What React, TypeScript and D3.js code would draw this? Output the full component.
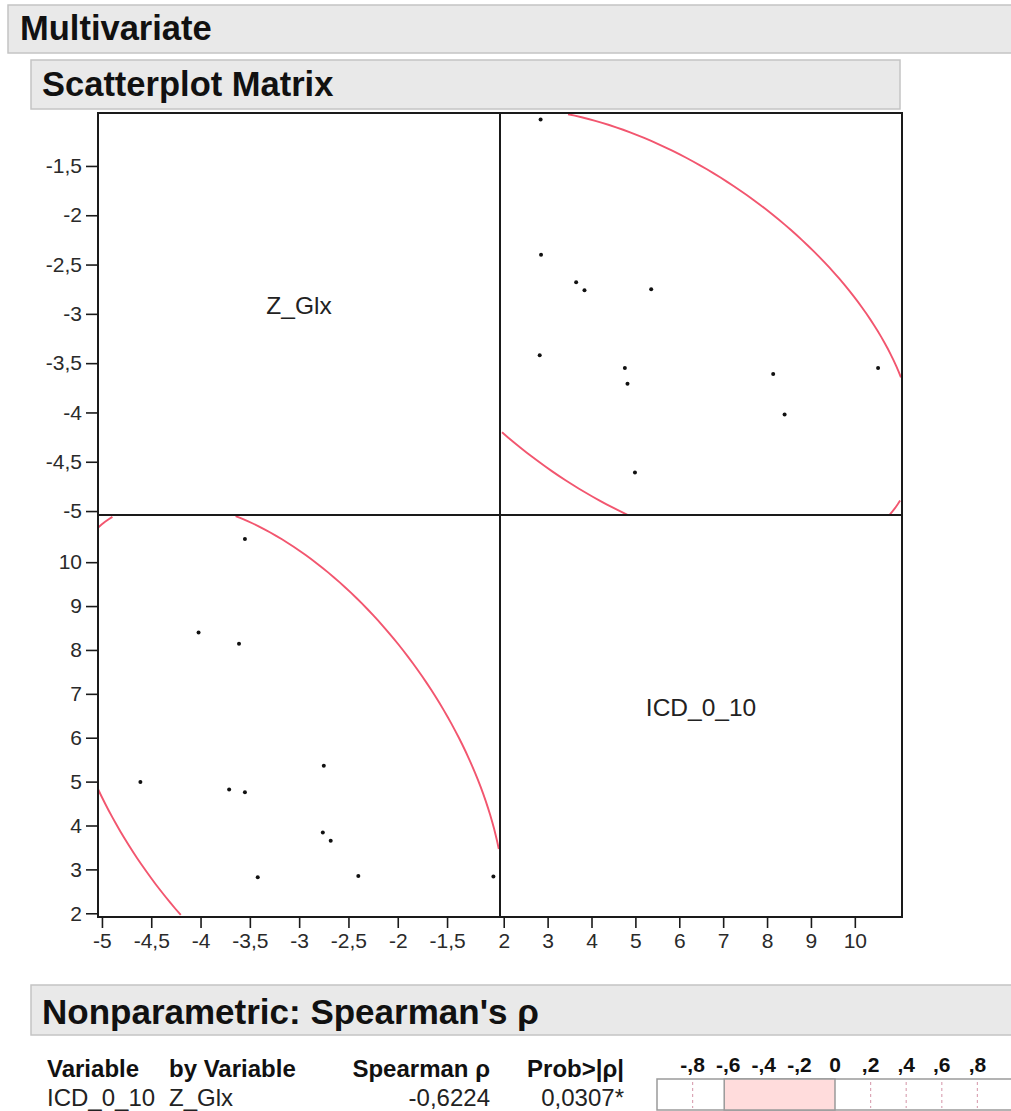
import * as d3 from 'd3';
import { useEffect, useRef } from 'react';

// values
const zGlx = [-3.55, -4.02, -3.61, -4.61, -3.71, -3.55, -2.75, -2.76, -2.68, -3.42, -2.4, -1.03];
const icd010 = [10.53, 8.4, 8.14, 4.99, 4.82, 4.76, 5.36, 3.84, 3.65, 2.82, 2.85, 2.84];
const varNames = ['Z_Glx', 'ICD_0_10'];
const zTicks = [-5, -4.5, -4, -3.5, -3, -2.5, -2, -1.5];
const icdTicks = [2, 3, 4, 5, 6, 7, 8, 9, 10];
const rhoTicks = [-0.8, -0.6, -0.4, -0.2, 0, 0.2, 0.4, 0.6, 0.8];
const sectionTitles = ['Multivariate', 'Scatterplot Matrix', "Nonparametric: Spearman's ρ"];
const tableHeader = ['Variable', 'by Variable', 'Spearman ρ', 'Prob>|ρ|'];
const tableRow = ['ICD_0_10', 'Z_Glx', '-0,6224', '0,0307*'];
const spearmanRho = -0.6224;

const FONT = '"Liberation Sans", Arial, Helvetica, sans-serif';
const comma = (d: number) => String(d).replace('.', ',');
const rhoFmt = (d: number) => (d === 0 ? '0' : String(d).replace('0.', ','));

const App = () => {
  const svgRef = useRef<SVGSVGElement | null>(null);

  useEffect(() => {
    if (!svgRef.current) return;
    const svg = d3.select(svgRef.current).html('');

    // section header bars
    const bars = [
      { x: 8, y: 5, w: 1030, h: 48, tx: 20, ty: 40 },
      { x: 31, y: 60, w: 869, h: 49, tx: 42, ty: 96 },
      { x: 31, y: 985, w: 1000, h: 50, tx: 42, ty: 1024 },
    ];
    bars.forEach((b, i) => {
      svg.append('rect')
        .attr('x', b.x).attr('y', b.y)
        .attr('width', b.w).attr('height', b.h)
        .attr('fill', '#e9e9e9')
        .attr('stroke', '#c4c4c4')
        .attr('stroke-width', 1.5);
      svg.append('text')
        .attr('x', b.tx).attr('y', b.ty)
        .attr('font-family', FONT)
        .attr('font-weight', 'bold')
        .attr('font-size', i === 2 ? 35 : 34.5)
        .attr('fill', '#111')
        .text(sectionTitles[i]);
    });

    // scatterplot matrix
    const x0 = 98, y0 = 113, cell = 402;
    const zDomain: [number, number] = [-5.04, -0.963];
    const iDomain: [number, number] = [1.915, 11.075];
    const zX = d3.scaleLinear().domain(zDomain).range([x0, x0 + cell]);
    const iX = d3.scaleLinear().domain(iDomain).range([x0 + cell, x0 + 2 * cell]);
    const zY = d3.scaleLinear().domain(zDomain).range([y0 + cell, y0]);
    const iY = d3.scaleLinear().domain(iDomain).range([y0 + 2 * cell, y0 + cell]);

    const points = zGlx.map((z, i) => ({ z, c: icd010[i] }));

    // 95% density ellipse from mean and covariance
    const n = points.length;
    const mz = d3.mean(zGlx)!;
    const mc = d3.mean(icd010)!;
    const szz = d3.sum(zGlx, z => (z - mz) ** 2) / (n - 1);
    const scc = d3.sum(icd010, c => (c - mc) ** 2) / (n - 1);
    const szc = d3.sum(points, p => (p.z - mz) * (p.c - mc)) / (n - 1);
    const l11 = Math.sqrt(szz);
    const l21 = szc / l11;
    const l22 = Math.sqrt(scc - l21 * l21);
    const k = Math.sqrt(5.991);
    const ellipse = d3.range(0, 361, 1.5).map(a => {
      const t = (a * Math.PI) / 180;
      const u = Math.cos(t), v = Math.sin(t);
      return { z: mz + k * l11 * u, c: mc + k * (l21 * u + l22 * v) };
    });
    // drop the parts that leave the frame, like JMP does
    const inside = (p: any) =>
      p.z >= zDomain[0] && p.z <= zDomain[1] && p.c >= iDomain[0] && p.c <= iDomain[1];

    const cells = [
      { px: (p: any) => iX(p.c), py: (p: any) => zY(p.z) },
      { px: (p: any) => zX(p.z), py: (p: any) => iY(p.c) },
    ];
    cells.forEach(c => {
      const g = svg.append('g');
      const line = d3.line<any>().defined(inside).x(c.px).y(c.py);
      g.append('path')
        .datum(ellipse)
        .attr('d', line)
        .attr('fill', 'none')
        .attr('stroke', '#f2566f')
        .attr('stroke-width', 1.9);
      g.selectAll('circle')
        .data(points)
        .enter().append('circle')
        .attr('cx', c.px)
        .attr('cy', c.py)
        .attr('r', 2)
        .attr('fill', '#111');
    });

    // diagonal labels
    varNames.forEach((name, i) => {
      svg.append('text')
        .attr('x', x0 + cell * i + cell / 2)
        .attr('y', y0 + cell * i + cell / 2)
        .attr('text-anchor', 'middle')
        .attr('font-family', FONT)
        .attr('font-size', 24.5)
        .attr('fill', '#222')
        .text(name);
    });

    // cell frames
    for (let r = 0; r < 2; r++) {
      for (let c = 0; c < 2; c++) {
        svg.append('rect')
          .attr('x', x0 + c * cell).attr('y', y0 + r * cell)
          .attr('width', cell).attr('height', cell)
          .attr('fill', 'none')
          .attr('stroke', '#1a1a1a')
          .attr('stroke-width', 2);
      }
    }

    // axes
    const styleAxis = (g: any) => {
      g.select('.domain').remove();
      g.selectAll('line').attr('stroke', '#1a1a1a').attr('stroke-width', 1.6);
      g.selectAll('text').attr('fill', '#2a2a2a');
      g.attr('font-family', FONT).attr('font-size', 21);
    };
    svg.append('g')
      .attr('transform', `translate(${x0},0)`)
      .call(d3.axisLeft(zY).tickValues(zTicks).tickSize(12).tickPadding(4).tickFormat(comma as any))
      .call(styleAxis);
    svg.append('g')
      .attr('transform', `translate(${x0},0)`)
      .call(d3.axisLeft(iY).tickValues(icdTicks).tickSize(12).tickPadding(4).tickFormat(comma as any))
      .call(styleAxis);
    svg.append('g')
      .attr('transform', `translate(0,${y0 + 2 * cell})`)
      .call(d3.axisBottom(zX).tickValues(zTicks).tickSize(11).tickPadding(5).tickFormat(comma as any))
      .call(styleAxis);
    svg.append('g')
      .attr('transform', `translate(0,${y0 + 2 * cell})`)
      .call(d3.axisBottom(iX).tickValues(icdTicks).tickSize(11).tickPadding(5).tickFormat(comma as any))
      .call(styleAxis);

    // Spearman table
    const headY = 1077, rowY = 1106;
    const colX = [47, 169, 490, 624];
    const anchors = ['start', 'start', 'end', 'end'];
    tableHeader.forEach((t, i) => {
      svg.append('text')
        .attr('x', colX[i]).attr('y', headY)
        .attr('text-anchor', anchors[i])
        .attr('font-family', FONT)
        .attr('font-weight', 'bold')
        .attr('font-size', 24)
        .attr('fill', '#111')
        .text(t);
    });
    tableRow.forEach((t, i) => {
      svg.append('text')
        .attr('x', colX[i]).attr('y', rowY)
        .attr('text-anchor', anchors[i])
        .attr('font-family', FONT)
        .attr('font-size', 24)
        .attr('fill', '#222')
        .text(t);
    });

    // rho bar
    const rX = d3.scaleLinear().domain([-1, 1]).range([657, 1013]);
    const barTop = 1079, barH = 31;
    svg.append('rect')
      .attr('x', rX(-1)).attr('y', barTop)
      .attr('width', rX(1) - rX(-1)).attr('height', barH)
      .attr('fill', '#fff')
      .attr('stroke', '#9a9a9a')
      .attr('stroke-width', 1.5);
    svg.selectAll('.rgrid')
      .data(rhoTicks.filter(d => d !== 0))
      .enter().append('line')
      .attr('class', 'rgrid')
      .attr('x1', d => rX(d)).attr('x2', d => rX(d))
      .attr('y1', barTop + 3).attr('y2', barTop + barH - 2)
      .attr('stroke', '#dba6b6')
      .attr('stroke-width', 1.2)
      .attr('stroke-dasharray', '3,3');
    svg.append('rect')
      .attr('x', rX(spearmanRho)).attr('y', barTop)
      .attr('width', rX(0) - rX(spearmanRho)).attr('height', barH)
      .attr('fill', '#ffdcdc')
      .attr('stroke', '#9a9a9a')
      .attr('stroke-width', 1.5);
    svg.selectAll('.rlab')
      .data(rhoTicks)
      .enter().append('text')
      .attr('class', 'rlab')
      .attr('x', d => rX(d)).attr('y', 1072)
      .attr('text-anchor', 'middle')
      .attr('font-family', FONT)
      .attr('font-weight', 'bold')
      .attr('font-size', 21)
      .attr('fill', '#111')
      .text(rhoFmt);
  }, []);

  return (
    <svg
      ref={svgRef}
      width={1011}
      height={1111}
      style={{ position: 'absolute', left: 0, top: 0, background: '#fff' }}
    />
  );
};

export default App;
